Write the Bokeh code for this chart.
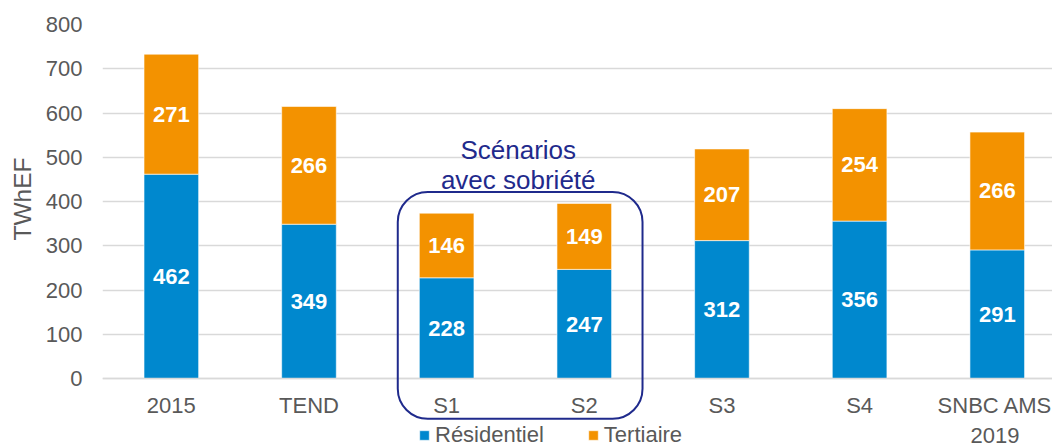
from bokeh.plotting import figure
from bokeh.models import (Range1d, FixedTicker, ColumnDataSource, BoxAnnotation,
                          Label, Legend, LegendItem, Title)
from bokeh.core.properties import value
from bokeh.embed import file_html
from bokeh.resources import INLINE

categories = ["2015", "TEND", "S1", "S2", "S3", "S4", "SNBC AMS\n2019"]
residentiel = [462, 349, 228, 247, 312, 356, 291]
tertiaire = [271, 266, 146, 149, 207, 254, 266]
y_ticks = [0, 100, 200, 300, 400, 500, 600, 700, 800]
series_names = ["Résidentiel", "Tertiaire"]
colors = ["#0088CE", "#F39200"]
annotation_text = ["Scénarios", "avec sobriété"]
y_title = "TWhEF"

FONT = "Liberation Sans"
GREY = "#595959"
NAVY = "#1F2A8C"

xs = [i + 0.5 for i in range(len(categories))]
source = ColumnDataSource(data=dict(
    x=xs,
    res=residentiel,
    ter=tertiaire,
    res_mid=[r / 2 for r in residentiel],
    ter_mid=[r + t / 2 for r, t in zip(residentiel, tertiaire)],
    res_lbl=[str(v) for v in residentiel],
    ter_lbl=[str(v) for v in tertiaire],
))

W, H = 1052, 443
LEFT, TOP = 101, 24
CAT_PX = 137.8          # pixels per category
Y_PX = 354 / 800        # pixels per TWh
x_end = (W - LEFT) / CAT_PX
y_start = -(H - 378.3) / Y_PX

p = figure(width=W, height=H, output_backend="svg", toolbar_location=None,
           x_range=Range1d(0, x_end), y_range=Range1d(y_start, 800),
           min_border_left=LEFT, min_border_right=0, min_border_top=TOP,
           min_border_bottom=0)
p.outline_line_color = None
p.background_fill_color = "white"
p.border_fill_color = "white"

renderers = p.vbar_stack(["res", "ter"], x="x", width=0.397, source=source,
                         color=colors, line_color="white", line_alpha=0.6,
                         line_width=1)

p.text(x="x", y="res_mid", text="res_lbl", source=source,
       text_font=value(FONT), text_font_style="bold", text_font_size="22px",
       text_color="white", text_align="center", text_baseline="middle")
p.text(x="x", y="ter_mid", text="ter_lbl", source=source,
       text_font=value(FONT), text_font_style="bold", text_font_size="22px",
       text_color="white", text_align="center", text_baseline="middle")

# axes
p.xaxis.ticker = FixedTicker(ticks=xs)
p.xaxis.major_label_overrides = {x: c for x, c in zip(xs, categories)}
p.xaxis.fixed_location = 0
p.yaxis.ticker = FixedTicker(ticks=y_ticks)
p.yaxis.bounds = (0, 800)
for ax in (p.xaxis[0], p.yaxis[0]):
    ax.major_tick_line_color = None
    ax.minor_tick_line_color = None
    ax.major_tick_out = 0
    ax.major_tick_in = 0
    ax.major_label_text_font = FONT
    ax.major_label_text_font_size = "22px"
    ax.major_label_text_color = GREY
p.xaxis.axis_line_color = "#D9D9D9"
p.xaxis.axis_line_width = 1.5
p.xaxis.major_label_standoff = 14
p.yaxis.axis_line_color = None
p.yaxis.major_label_standoff = 20

# y-axis title, placed beside the axis
p.add_layout(Title(text=y_title, align="left", offset=203, standoff=13,
                   text_font=FONT, text_font_size="24.5px",
                   text_font_style="normal", text_color=GREY), "left")

p.xgrid.grid_line_color = None
p.ygrid.grid_line_color = "#D9D9D9"
p.ygrid.grid_line_width = 1.5

# scenario box and caption
box = BoxAnnotation(left=2.145, right=3.923, top=421.7, bottom=-90.4,
                    fill_alpha=0, line_color=NAVY, line_alpha=1, line_width=2,
                    border_radius=30)
p.add_layout(box)
for txt, yv in zip(annotation_text, [516, 448.5]):
    p.add_layout(Label(x=3.02, y=yv, text=txt, text_align="center",
                       text_baseline="alphabetic", text_font=FONT,
                       text_font_size="26px", text_color=NAVY))

legend = Legend(items=[LegendItem(label=n, renderers=[r])
                       for n, r in zip(series_names, renderers)],
                location=(316, -5), orientation="horizontal",
                padding=0, margin=0, spacing=43, label_standoff=5,
                glyph_width=12, glyph_height=12,
                label_text_font=FONT, label_text_font_size="22px",
                label_text_color=GREY, border_line_color=None,
                background_fill_alpha=0)
p.add_layout(legend, "center")

open("out.html", "w").write(file_html(p, INLINE))
